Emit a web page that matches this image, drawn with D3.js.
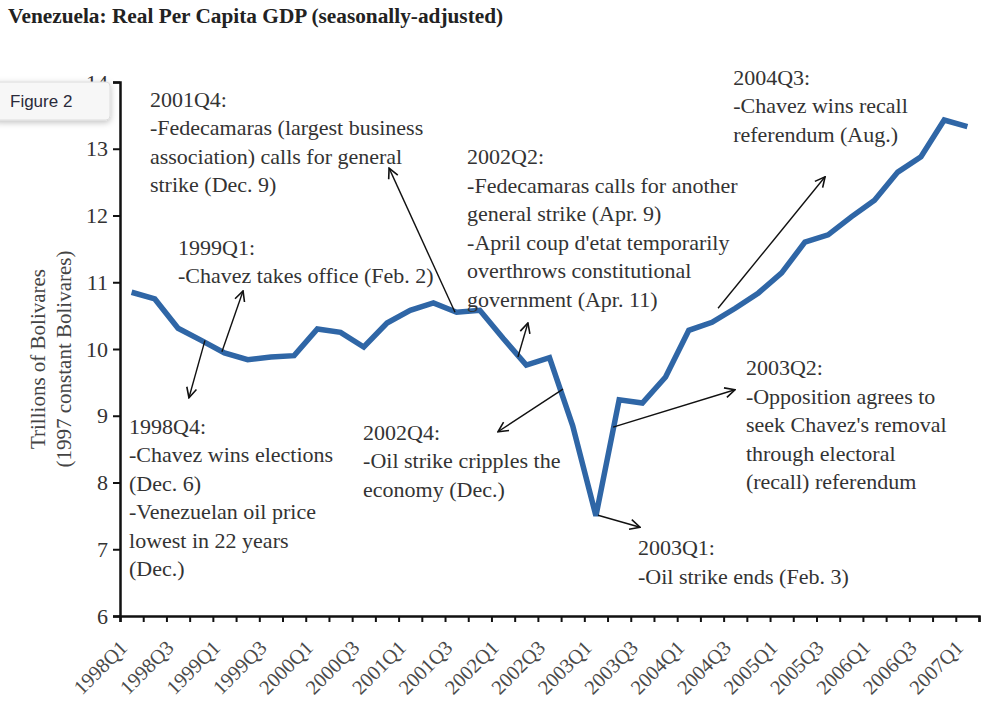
<!DOCTYPE html>
<html>
<head>
<meta charset="utf-8">
<script src="https://cdn.jsdelivr.net/npm/d3@7"></script>
<style>
  body { margin: 0; background: #fff; }
  svg { display: block; }
</style>
</head>
<body>
<svg id="chart"></svg>
<script>
// quarters, 1998Q1 .. 2007Q1
var quarters = []
for (var yr = 1998; yr <= 2007; yr++) {
    for (var q = 1; q <= 4; q++) {
        if (yr == 2007 && q > 1) break
        quarters.push(yr + "Q" + q)
    }
}

// real per capita GDP, trillions of 1997 bolivares
var gdp = [10.85, 10.75, 10.31, 10.13, 9.94, 9.84, 9.88, 9.90,
           10.30, 10.25, 10.03, 10.39, 10.58, 10.69, 10.55, 10.58,
           10.16, 9.76, 9.87, 8.85, 7.50, 9.24, 9.19, 9.58,
           10.28, 10.40, 10.61, 10.84, 11.14, 11.60, 11.71, 11.98,
           12.23, 12.65, 12.88, 13.43, 13.33]

var yTicks = [6, 7, 8, 9, 10, 11, 12, 13, 14]

// every other quarter gets a label
var xLabels = quarters.filter(function (d, i) { return i % 2 == 0 })

var noteTexts = [
    ["2001Q4:", "-Fedecamaras (largest business", "association) calls for general", "strike (Dec. 9)"],
    ["1999Q1:", "-Chavez takes office (Feb. 2)"],
    ["2002Q2:", "-Fedecamaras calls for another", "general strike (Apr. 9)", "-April coup d'etat temporarily", "overthrows constitutional", "government (Apr. 11)"],
    ["2004Q3:", "-Chavez wins recall", "referendum (Aug.)"],
    ["1998Q4:", "-Chavez wins elections", "(Dec. 6)", "-Venezuelan oil price", "lowest in 22 years", "(Dec.)"],
    ["2002Q4:", "-Oil strike cripples the", "economy (Dec.)"],
    ["2003Q2:", "-Opposition agrees to", "seek Chavez's removal", "through electoral", "(recall) referendum"],
    ["2003Q1:", "-Oil strike ends (Feb. 3)"]
]
// where each note starts: [quarter position, value] of the first baseline
var noteAt = [[1.29, 13.63], [2.5, 11.41], [14.95, 12.77], [26.41, 13.96],
              [0.39, 8.73], [10.47, 8.64], [26.96, 9.61], [22.31, 6.91]]

// arrows from the line to the notes, [q, value] -> [q, value]
var arrows = [
    [[3.66, 10.13], [2.97, 9.27]],
    [[4.39, 9.96], [5.30, 10.87]],
    [[14.43, 10.55], [11.59, 12.71]],
    [[17.14, 9.88], [17.57, 10.39]],
    [[19.08, 9.40], [16.28, 8.76]],
    [[20.59, 7.51], [22.40, 7.33]],
    [[21.24, 8.83], [26.49, 9.39]],
    [[25.76, 10.61], [30.37, 12.58]]
]

var W = 982, H = 702
var margin = {left: 120, right: 979, top: 82, bottom: 616}

var svg = d3.select("#chart")
    .attr("width", W)
    .attr("height", H)
    .style("font-family", "'Liberation Serif', 'Times New Roman', serif")

svg.append("rect").attr("width", W).attr("height", H).attr("fill", "#fff")
var defs = svg.append("defs")

var x = d3.scaleBand().domain(quarters).range([margin.left, margin.right]).padding(0)
// same axis as a continuous quarter count, for boundaries and notes
var xq = d3.scaleLinear().domain([0, quarters.length]).range([margin.left, margin.right])
var y = d3.scaleLinear().domain([6, 14]).range([margin.bottom, margin.top])

// title
svg.append("text")
    .attr("x", 8).attr("y", 23)
    .style("font-size", "21.3px").style("font-weight", "bold")
    .attr("fill", "#222")
    .text("Venezuela: Real Per Capita GDP (seasonally-adjusted)")

// y axis
var yAxis = svg.append("g")
    .attr("transform", "translate(" + margin.left + ",0)")
    .call(d3.axisLeft(y).tickValues(yTicks).tickSize(7).tickPadding(5).tickFormat(d3.format("d")))
yAxis.select(".domain").attr("stroke", "#111").attr("stroke-width", 2.5)
yAxis.selectAll(".tick line").attr("stroke", "#111").attr("stroke-width", 2)
yAxis.selectAll(".tick text")
    .style("font-family", "'Liberation Serif', serif")
    .style("font-size", "22px").attr("fill", "#333")

// x axis: ticks at the quarter boundaries
var xAxis = svg.append("g")
    .attr("transform", "translate(0," + margin.bottom + ")")
    .call(d3.axisBottom(xq).tickValues(d3.range(quarters.length + 1)).tickSize(6).tickFormat(""))
xAxis.select(".domain").attr("stroke", "#111").attr("stroke-width", 2.5)
xAxis.selectAll(".tick line").attr("stroke", "#111").attr("stroke-width", 2)

svg.append("g").selectAll("text")
    .data(xLabels)
    .enter()
    .append("text")
    .attr("transform", function (d) {
        return "translate(" + (x(d) + x.bandwidth() / 2 - 3) + "," + (margin.bottom + 33) + ") rotate(-45)"
    })
    .attr("text-anchor", "end")
    .style("font-size", "20.5px")
    .attr("fill", "#4a4a4a")
    .text(function (d) { return d })

// y axis title
var yTitle = svg.append("text")
    .attr("transform", "translate(45," + y(9.85) + ") rotate(-90)")
    .attr("text-anchor", "middle")
    .style("font-size", "21px")
    .attr("fill", "#444")
yTitle.append("tspan").attr("x", 0).attr("y", 0).text("Trillions of Bolivares")
yTitle.append("tspan").attr("x", 0).attr("y", 26).text("(1997 constant Bolivares)")

// the series
var line = d3.line()
    .x(function (d, i) { return x(quarters[i]) + x.bandwidth() / 2 })
    .y(function (d) { return y(d) })

svg.append("path")
    .datum(gdp)
    .attr("d", line)
    .attr("fill", "none")
    .attr("stroke", "#2f66a6")
    .attr("stroke-width", 5.5)
    .attr("stroke-linejoin", "miter")

// arrows
defs.append("marker")
    .attr("id", "head")
    .attr("viewBox", "0 0 12 12")
    .attr("refX", 11).attr("refY", 6)
    .attr("markerWidth", 12).attr("markerHeight", 12)
    .attr("markerUnits", "userSpaceOnUse")
    .attr("orient", "auto")
    .append("path")
    .attr("d", "M1,1 L11,6 L1,11")
    .attr("fill", "none")
    .attr("stroke", "#111")
    .attr("stroke-width", 1.6)

svg.append("g").selectAll("line")
    .data(arrows)
    .enter()
    .append("line")
    .attr("x1", function (d) { return xq(d[0][0]) })
    .attr("y1", function (d) { return y(d[0][1]) })
    .attr("x2", function (d) { return xq(d[1][0]) })
    .attr("y2", function (d) { return y(d[1][1]) })
    .attr("stroke", "#111")
    .attr("stroke-width", 1.4)
    .attr("marker-end", "url(#head)")

// notes
var notes = svg.append("g").selectAll("text")
    .data(noteTexts)
    .enter()
    .append("text")
    .attr("x", function (d, i) { return xq(noteAt[i][0]) })
    .attr("y", function (d, i) { return y(noteAt[i][1]) })
    .style("font-size", "22px")
    .attr("fill", "#333")

notes.selectAll("tspan")
    .data(function (d, i) { return d.map(function (t) { return {t: t, i: i} }) })
    .enter()
    .append("tspan")
    .attr("x", function (d) { return xq(noteAt[d.i][0]) })
    .attr("dy", function (d, k) { return k == 0 ? 0 : 28.5 })
    .text(function (d) { return d.t })

// "Figure 2" tab in the corner
var shadow = defs.append("filter").attr("id", "shadow")
    .attr("x", "-20%").attr("y", "-40%").attr("width", "140%").attr("height", "190%")
shadow.append("feDropShadow")
    .attr("dx", 0).attr("dy", 2).attr("stdDeviation", 3)
    .attr("flood-color", "#000").attr("flood-opacity", 0.25)

svg.append("rect")
    .attr("x", -6).attr("y", 82)
    .attr("width", 116).attr("height", 38)
    .attr("rx", 4)
    .attr("fill", "#f7f7f7")
    .attr("stroke", "#dcdcdc")
    .attr("filter", "url(#shadow)")

svg.append("text")
    .attr("x", 10).attr("y", 107)
    .style("font-family", "'Liberation Sans', Arial, sans-serif")
    .style("font-size", "17px")
    .attr("fill", "#2a2a3a")
    .text("Figure 2")
</script>
</body>
</html>
